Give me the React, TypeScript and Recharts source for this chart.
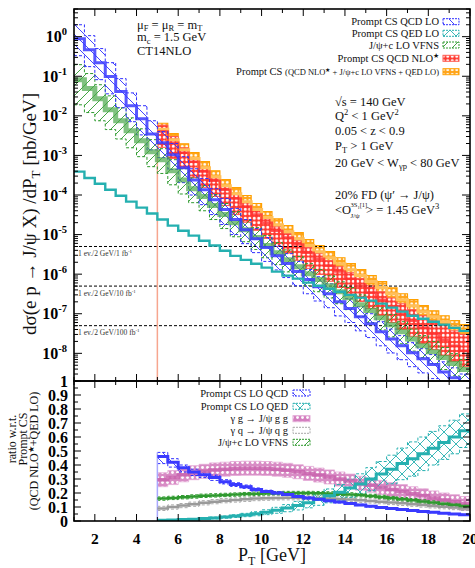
import React from "react";
import { ComposedChart, Area, Line, XAxis, YAxis, ReferenceLine } from "recharts";

const SERIF = "'Liberation Serif', 'DejaVu Serif', serif";

// bin lower edges in GeV (last entry closes the final bin)
const pTEdges = [1, 1.5, 2, 2.5, 3, 3.5, 4, 4.5, 5, 5.5, 6, 6.5, 7, 7.5, 8, 8.5, 9, 9.5, 10, 10.5, 11, 11.5, 12, 12.5, 13, 13.5, 14, 14.5, 15, 15.5, 16, 16.5, 17, 17.5, 18, 18.5, 19, 19.5, 20];
const xTicks = [1, 2, 3, 4, 5, 6, 7, 8, 9, 10, 11, 12, 13, 14, 15, 16, 17, 18, 19, 20];

// ---- top panel: dσ/dPT [nb/GeV] ----
const qcdLo = [0.89, 0.47, 0.22, 0.098, 0.041, 0.018, 8.5e-3, 3.5e-3, 2.1e-3, 1.04e-3, 4.9e-4, 2.4e-4, 1.36e-4, 7.6e-5, 4.3e-5, 2.4e-5, 1.33e-5, 7.9e-6, 4.7e-6, 2.9e-6, 1.85e-6, 1.16e-6, 7.3e-7, 4.8e-7, 3.2e-7, 2.0e-7, 1.35e-7, 8.4e-8, 5.6e-8, 3.5e-8, 2.3e-8, 1.56e-8, 1.04e-8, 7.3e-9, 5.2e-9, 3.4e-9, 2.4e-9, 1.7e-9];
const qcdLoHi = [2.0, 1.06, 0.5, 0.22, 0.087, 0.038, 1.8e-2, 7.5e-3, 4.0e-3, 2.0e-3, 9.3e-4, 4.6e-4, 2.6e-4, 1.44e-4, 8.2e-5, 4.6e-5, 2.4e-5, 1.41e-5, 8.4e-6, 5.2e-6, 3.3e-6, 2.1e-6, 1.31e-6, 8.6e-7, 5.7e-7, 3.6e-7, 2.4e-7, 1.5e-7, 1.0e-7, 6.3e-8, 4.1e-8, 2.8e-8, 1.86e-8, 1.31e-8, 9.3e-9, 6.1e-9, 4.3e-9, 3.0e-9];
const qcdLoLo = [0.33, 0.175, 0.082, 0.036, 0.016, 7.1e-3, 3.3e-3, 1.38e-3, 8.8e-4, 4.4e-4, 2.05e-4, 1.0e-4, 5.7e-5, 3.2e-5, 1.8e-5, 1.0e-5, 5.9e-6, 3.5e-6, 2.1e-6, 1.28e-6, 8.2e-7, 5.1e-7, 3.2e-7, 2.1e-7, 1.42e-7, 8.8e-8, 6.0e-8, 3.7e-8, 2.5e-8, 1.55e-8, 1.02e-8, 6.9e-9, 4.6e-9, 3.2e-9, 2.3e-9, 1.5e-9, 1.06e-9, 7.5e-10];

const vfns = [8.2e-2, 4.9e-2, 2.7e-2, 1.43e-2, 7.5e-3, 4.2e-3, 2.35e-3, 1.24e-3, 7.8e-4, 4.1e-4, 2.4e-4, 1.44e-4, 9.1e-5, 5.4e-5, 3.2e-5, 2.0e-5, 1.33e-5, 8.4e-6, 5.3e-6, 3.5e-6, 2.3e-6, 1.55e-6, 1.03e-6, 7.3e-7, 5.1e-7, 3.6e-7, 2.55e-7, 1.7e-7, 1.2e-7, 7.9e-8, 5.3e-8, 3.5e-8, 2.3e-8, 1.56e-8, 1.1e-8, 7.8e-9, 5.5e-9, 3.9e-9];
const vfnsHi = [0.196, 0.117, 6.1e-2, 3.2e-2, 1.6e-2, 8.9e-3, 4.7e-3, 2.5e-3, 1.48e-3, 7.8e-4, 4.6e-4, 2.7e-4, 1.73e-4, 1.03e-4, 6.1e-5, 3.8e-5, 2.4e-5, 1.5e-5, 9.5e-6, 6.3e-6, 4.1e-6, 2.8e-6, 1.84e-6, 1.31e-6, 9.1e-7, 6.4e-7, 4.6e-7, 3.0e-7, 2.1e-7, 1.41e-7, 9.5e-8, 6.3e-8, 4.1e-8, 2.8e-8, 2.0e-8, 1.4e-8, 9.8e-9, 7.0e-9];
const vfnsLo = [1.9e-2, 1.21e-2, 7.5e-3, 4.5e-3, 2.6e-3, 1.56e-3, 9.3e-4, 5.2e-4, 3.5e-4, 1.81e-4, 1.06e-4, 6.4e-5, 4.0e-5, 2.4e-5, 1.42e-5, 8.8e-6, 6.6e-6, 4.2e-6, 2.6e-6, 1.74e-6, 1.14e-6, 7.7e-7, 5.1e-7, 3.6e-7, 2.5e-7, 1.79e-7, 1.27e-7, 8.5e-8, 6.0e-8, 3.9e-8, 2.6e-8, 1.74e-8, 1.14e-8, 7.8e-9, 5.5e-9, 3.9e-9, 2.7e-9, 1.94e-9];

const qedLo = [3.9e-4, 2.7e-4, 1.93e-4, 1.36e-4, 9.6e-5, 6.8e-5, 4.8e-5, 3.4e-5, 2.4e-5, 1.68e-5, 1.25e-5, 9.4e-6, 7.0e-6, 5.3e-6, 3.9e-6, 2.9e-6, 2.3e-6, 1.84e-6, 1.46e-6, 1.16e-6, 9.2e-7, 7.7e-7, 6.1e-7, 5.1e-7, 4.3e-7, 3.6e-7, 3.0e-7, 2.55e-7, 2.14e-7, 1.8e-7, 1.43e-7, 1.13e-7, 8.9e-8, 7.5e-8, 6.3e-8, 5.3e-8, 4.4e-8, 3.7e-8];

// from PT = 5 GeV
const nloStar = [4.0e-3, 2.1e-3, 1.17e-3, 6.9e-4, 3.9e-4, 2.3e-4, 1.36e-4, 8.1e-5, 5.1e-5, 3.2e-5, 2.0e-5, 1.25e-5, 8.4e-6, 5.6e-6, 3.5e-6, 2.46e-6, 1.64e-6, 1.16e-6, 7.7e-7, 5.1e-7, 3.4e-7, 2.27e-7, 1.51e-7, 1.0e-7, 6.7e-8, 4.4e-8, 3.1e-8, 2.2e-8, 1.56e-8, 1.16e-8];
const nloStarHi = [5.8e-3, 3.0e-3, 1.56e-3, 8.8e-4, 4.9e-4, 2.7e-4, 1.63e-4, 1.02e-4, 6.5e-5, 4.1e-5, 2.5e-5, 1.57e-5, 1.06e-5, 7.0e-6, 4.7e-6, 3.3e-6, 2.2e-6, 1.54e-6, 1.09e-6, 7.8e-7, 5.1e-7, 3.6e-7, 2.5e-7, 1.79e-7, 1.27e-7, 8.9e-8, 6.6e-8, 5.0e-8, 3.7e-8, 3.0e-8];
const nloStarLo = [1.6e-3, 8.4e-4, 4.7e-4, 2.76e-4, 1.56e-4, 9.2e-5, 5.4e-5, 3.2e-5, 2.04e-5, 1.28e-5, 8.0e-6, 5.0e-6, 3.4e-6, 2.24e-6, 1.4e-6, 9.8e-7, 6.6e-7, 4.6e-7, 3.1e-7, 2.04e-7, 1.36e-7, 9.1e-8, 6.0e-8, 4.0e-8, 2.7e-8, 1.76e-8, 1.24e-8, 8.8e-9, 6.2e-9, 4.6e-9];

const total = [4.6e-3, 2.5e-3, 1.39e-3, 8.3e-4, 4.9e-4, 2.9e-4, 1.72e-4, 1.08e-4, 6.8e-5, 4.3e-5, 2.7e-5, 1.78e-5, 1.18e-5, 7.9e-6, 5.3e-6, 3.7e-6, 2.6e-6, 1.84e-6, 1.3e-6, 9.2e-7, 6.5e-7, 4.6e-7, 3.2e-7, 2.27e-7, 1.6e-7, 1.13e-7, 8.4e-8, 6.3e-8, 4.7e-8, 3.7e-8];
const totalHi = [6.5e-3, 3.55e-3, 1.97e-3, 1.18e-3, 7.0e-4, 4.1e-4, 2.44e-4, 1.53e-4, 9.7e-5, 6.1e-5, 3.8e-5, 2.5e-5, 1.68e-5, 1.12e-5, 7.5e-6, 5.3e-6, 3.7e-6, 2.6e-6, 1.85e-6, 1.31e-6, 9.2e-7, 6.5e-7, 4.5e-7, 3.2e-7, 2.27e-7, 1.6e-7, 1.19e-7, 8.9e-8, 6.7e-8, 5.3e-8];
const totalLo = [3.4e-3, 1.87e-3, 1.04e-3, 6.2e-4, 3.7e-4, 2.16e-4, 1.28e-4, 8.1e-5, 5.1e-5, 3.2e-5, 2.0e-5, 1.33e-5, 8.8e-6, 5.9e-6, 4.0e-6, 2.76e-6, 1.94e-6, 1.37e-6, 9.7e-7, 6.9e-7, 4.9e-7, 3.4e-7, 2.4e-7, 1.69e-7, 1.19e-7, 8.4e-8, 6.3e-8, 4.7e-8, 3.5e-8, 2.76e-8];

// ---- ratio panel (from PT = 5 GeV) ----
const rQcd = [0.46, 0.42, 0.38, 0.35, 0.33, 0.31, 0.28, 0.26, 0.245, 0.225, 0.21, 0.2, 0.19, 0.175, 0.165, 0.155, 0.145, 0.135, 0.125, 0.115, 0.105, 0.097, 0.09, 0.082, 0.075, 0.068, 0.062, 0.056, 0.05, 0.045];
const rQcdLo = [0.41, 0.385, 0.35, 0.325, 0.31, 0.29, 0.265, 0.247, 0.233, 0.214, 0.2, 0.19, 0.181, 0.167, 0.157, 0.148, 0.138, 0.129, 0.119, 0.11, 0.1, 0.092, 0.086, 0.078, 0.071, 0.065, 0.059, 0.053, 0.047, 0.042];
const rQcdHi = [0.49, 0.445, 0.4, 0.37, 0.35, 0.328, 0.295, 0.273, 0.257, 0.236, 0.22, 0.21, 0.199, 0.183, 0.173, 0.162, 0.152, 0.141, 0.131, 0.12, 0.11, 0.102, 0.094, 0.086, 0.079, 0.071, 0.065, 0.059, 0.053, 0.048];

const rQed = [0.005, 0.008, 0.01, 0.013, 0.017, 0.022, 0.028, 0.035, 0.043, 0.052, 0.063, 0.077, 0.092, 0.11, 0.13, 0.155, 0.18, 0.205, 0.235, 0.265, 0.3, 0.335, 0.37, 0.41, 0.445, 0.48, 0.52, 0.56, 0.6, 0.645];
const rQedLo = [0.0036, 0.0058, 0.0072, 0.0094, 0.0122, 0.0158, 0.0202, 0.0252, 0.031, 0.0374, 0.0454, 0.0554, 0.0662, 0.079, 0.094, 0.112, 0.13, 0.148, 0.169, 0.191, 0.216, 0.241, 0.266, 0.295, 0.32, 0.36, 0.4, 0.44, 0.48, 0.525];
const rQedHi = [0.0064, 0.0102, 0.0127, 0.0165, 0.0216, 0.028, 0.0356, 0.0445, 0.0546, 0.066, 0.08, 0.0978, 0.117, 0.14, 0.165, 0.197, 0.229, 0.26, 0.298, 0.337, 0.381, 0.425, 0.47, 0.521, 0.565, 0.6, 0.64, 0.68, 0.72, 0.765];

const rGg = [0.295, 0.31, 0.33, 0.345, 0.355, 0.365, 0.37, 0.375, 0.377, 0.377, 0.375, 0.37, 0.362, 0.352, 0.34, 0.328, 0.315, 0.3, 0.285, 0.27, 0.255, 0.24, 0.225, 0.21, 0.195, 0.18, 0.165, 0.15, 0.138, 0.125];
const rGgLo = [0.245, 0.26, 0.28, 0.295, 0.305, 0.315, 0.32, 0.325, 0.327, 0.327, 0.325, 0.32, 0.312, 0.302, 0.29, 0.278, 0.265, 0.25, 0.235, 0.22, 0.205, 0.19, 0.175, 0.16, 0.145, 0.13, 0.115, 0.1, 0.088, 0.075];
const rGgHi = [0.345, 0.36, 0.38, 0.395, 0.405, 0.415, 0.42, 0.425, 0.427, 0.427, 0.425, 0.42, 0.412, 0.402, 0.39, 0.378, 0.365, 0.35, 0.335, 0.32, 0.305, 0.29, 0.275, 0.26, 0.245, 0.23, 0.215, 0.2, 0.188, 0.175];

const rGq = [0.09, 0.1, 0.11, 0.12, 0.13, 0.138, 0.145, 0.15, 0.155, 0.16, 0.163, 0.165, 0.166, 0.166, 0.165, 0.163, 0.16, 0.157, 0.153, 0.148, 0.143, 0.138, 0.132, 0.126, 0.12, 0.114, 0.108, 0.102, 0.096, 0.09];
const rGqLo = [0.075, 0.085, 0.095, 0.105, 0.115, 0.123, 0.13, 0.135, 0.14, 0.145, 0.148, 0.15, 0.151, 0.151, 0.15, 0.148, 0.145, 0.142, 0.138, 0.133, 0.128, 0.123, 0.117, 0.111, 0.105, 0.099, 0.093, 0.087, 0.081, 0.075];
const rGqHi = [0.105, 0.115, 0.125, 0.135, 0.145, 0.153, 0.16, 0.165, 0.17, 0.175, 0.178, 0.18, 0.181, 0.181, 0.18, 0.178, 0.175, 0.172, 0.168, 0.163, 0.158, 0.153, 0.147, 0.141, 0.135, 0.129, 0.123, 0.117, 0.111, 0.105];

const rVfns = [0.16, 0.165, 0.17, 0.175, 0.18, 0.183, 0.186, 0.189, 0.192, 0.195, 0.197, 0.199, 0.2, 0.2, 0.2, 0.199, 0.197, 0.194, 0.19, 0.185, 0.179, 0.172, 0.164, 0.156, 0.148, 0.14, 0.132, 0.124, 0.116, 0.108];
const rVfnsLo = [0.148, 0.153, 0.158, 0.163, 0.168, 0.171, 0.174, 0.177, 0.18, 0.183, 0.185, 0.187, 0.188, 0.188, 0.188, 0.187, 0.185, 0.182, 0.178, 0.173, 0.167, 0.16, 0.152, 0.144, 0.136, 0.128, 0.12, 0.112, 0.104, 0.096];
const rVfnsHi = [0.172, 0.177, 0.182, 0.187, 0.192, 0.195, 0.198, 0.201, 0.204, 0.207, 0.209, 0.211, 0.212, 0.212, 0.212, 0.211, 0.209, 0.206, 0.202, 0.197, 0.191, 0.184, 0.176, 0.168, 0.16, 0.152, 0.144, 0.136, 0.128, 0.12];

// axis ticks
const yMajor = [1, 0.1, 0.01, 1e-3, 1e-4, 1e-5, 1e-6, 1e-7, 1e-8];
const yMajorLabels = ["0", "-1", "-2", "-3", "-4", "-5", "-6", "-7", "-8"];
const yMinorMantissa = [2, 3, 4, 5, 6, 7, 8, 9];
const yTicksAll = [...yMajor, ...[1e-9, ...yMajor].flatMap((p) => yMinorMantissa.map((m) => m * p))].filter((v) => v >= 2e-9 && v <= 5);
const ratioTicks = [0, 0.05, 0.1, 0.15, 0.2, 0.25, 0.3, 0.35, 0.4, 0.45, 0.5, 0.55, 0.6, 0.65, 0.7, 0.75, 0.8, 0.85, 0.9, 0.95, 1];
const ratioMajor = [0, 0.1, 0.2, 0.3, 0.4, 0.5, 0.6, 0.7, 0.8, 0.9, 1];
const ratioMajorLabels = ["0", "0.1", "0.2", "0.3", "0.4", "0.5", "0.6", "0.7", "0.8", "0.9", "1"];

const lumiLevels = [5e-6, 5e-7, 5e-8];
const lumiLabels = ["1 ev./2 GeV/1 fb", "1 ev./2 GeV/10 fb", "1 ev./2 GeV/100 fb"];

// rows
const topRows = pTEdges.map((x, i) => {
  const k = Math.min(i, qcdLo.length - 1);
  return {
    x,
    blue: qcdLo[k],
    blueBox: [qcdLoLo[k], qcdLoHi[k]],
    green: vfns[k],
    greenBox: [vfnsLo[k], vfnsHi[k]],
    cyan: qedLo[k],
  };
});
const nloRows = pTEdges.slice(8).map((x, j) => {
  const k = Math.min(j, nloStar.length - 1);
  return {
    x,
    red: nloStar[k],
    redBox: [nloStarLo[k], nloStarHi[k]],
    orange: total[k],
    orangeBox: [totalLo[k], totalHi[k]],
  };
});
const ratioRows = pTEdges.slice(8).map((x, j) => {
  const k = Math.min(j, rQcd.length - 1);
  return {
    x,
    qcd: rQcd[k], qcdBox: [rQcdLo[k], rQcdHi[k]],
    qed: rQed[k], qedBox: [rQedLo[k], rQedHi[k]],
    gg: rGg[k], ggBox: [rGgLo[k], rGgHi[k]],
    gq: rGq[k], gqBox: [rGqLo[k], rGqHi[k]],
    vf: rVfns[k], vfBox: [rVfnsLo[k], rVfnsHi[k]],
  };
});

// layout
const W = 475;
const TOP = { t: 9, b: 381, l: 74, r: 470 };
const BOT = { t: 381, b: 521, l: 74, r: 470 };

const C = {
  blue: "#2f2fff",
  cyan: "#25b0b0",
  green: "#2e9a2e",
  red: "#ff3030",
  orange: "#ffa000",
  pink: "#cf6fb5",
  grey: "#a8a8a8",
};

const topXTick = (p: any) => {
  const x = p.x;
  const v = p.payload.value;
  const len = v % 2 === 0 ? 7 : 4;
  return (
    <g>
      <line x1={x} x2={x} y1={TOP.b} y2={TOP.b - len} stroke="#000" strokeWidth={1} />
      <line x1={x} x2={x} y1={TOP.t} y2={TOP.t + len} stroke="#000" strokeWidth={1} />
    </g>
  );
};

const topYTick = (p: any) => {
  const y = p.y;
  const v = p.payload.value;
  const idx = yMajor.findIndex((m) => Math.abs(v / m - 1) < 1e-6);
  const major = idx >= 0;
  const len = major ? 8 : 4;
  return (
    <g>
      <line x1={TOP.l} x2={TOP.l + len} y1={y} y2={y} stroke="#000" strokeWidth={1} />
      <line x1={TOP.r} x2={TOP.r - len} y1={y} y2={y} stroke="#000" strokeWidth={1} />
      {major && (
        <text x={67} y={y + 5.5} textAnchor="end" fontFamily={SERIF} fontWeight={700} fontSize={16} fill="#000">
          10<tspan dy={-7} fontSize={10.5}>{yMajorLabels[idx]}</tspan>
        </text>
      )}
    </g>
  );
};

const botXTick = (p: any) => {
  const x = p.x;
  const v = p.payload.value;
  const major = v % 2 === 0;
  const len = major ? 7 : 4;
  return (
    <g>
      <line x1={x} x2={x} y1={BOT.b} y2={BOT.b - len} stroke="#000" strokeWidth={1} />
      <line x1={x} x2={x} y1={BOT.t} y2={BOT.t + len} stroke="#000" strokeWidth={1} />
      {major && (
        <text x={x} y={544} textAnchor="middle" fontFamily={SERIF} fontWeight={700} fontSize={15.5} fill="#000">
          {v}
        </text>
      )}
    </g>
  );
};

const botYTick = (p: any) => {
  const y = p.y;
  const v = p.payload.value;
  const idx = ratioMajor.findIndex((m) => Math.abs(v - m) < 1e-9);
  const major = idx >= 0;
  const len = major ? 7 : 4;
  return (
    <g>
      <line x1={BOT.l} x2={BOT.l + len} y1={y} y2={y} stroke="#000" strokeWidth={1} />
      <line x1={BOT.r} x2={BOT.r - len} y1={y} y2={y} stroke="#000" strokeWidth={1} />
      {major && (
        <text x={68} y={y + 5.5} textAnchor="end" fontFamily={SERIF} fontWeight={700} fontSize={16} fill="#000">
          {ratioMajorLabels[idx]}
        </text>
      )}
    </g>
  );
};

const lumiLabel = (text: string) => (props: any) => {
  const vb = props.viewBox || {};
  return (
    <text x={(vb.x || 0) + 4} y={(vb.y || 0) + 9.5} fontFamily={SERIF} fontSize={7.5} fill="#333">
      {text}
      <tspan dy={-3} fontSize={5}>-1</tspan>
    </text>
  );
};

function PatternDefs() {
  return (
    <svg width={0} height={0} style={{ position: "absolute", left: 0, top: 0 }}>
      <defs>
        <pattern id="pBlue" width={10} height={10} patternUnits="userSpaceOnUse">
          <path d="M0,0 L10,10 M-2,8 L2,12 M8,-2 L12,2" stroke={C.blue} strokeWidth={0.9} fill="none" />
        </pattern>
        <pattern id="pGreen" width={10} height={10} patternUnits="userSpaceOnUse">
          <path d="M0,10 L10,0 M-2,2 L2,-2 M8,12 L12,8" stroke={C.green} strokeWidth={0.9} fill="none" />
        </pattern>
        <pattern id="pCyanX" width={12} height={12} patternUnits="userSpaceOnUse">
          <path d="M0,0 L12,12 M12,0 L0,12" stroke={C.cyan} strokeWidth={0.9} fill="none" />
        </pattern>
        <pattern id="pRed" width={4.5} height={4.5} patternUnits="userSpaceOnUse">
          <rect width={4.5} height={4.5} fill="#ff3a30" />
          <circle cx={2.25} cy={2.25} r={1.5} fill="#fff" />
        </pattern>
        <pattern id="pOrange" width={4.5} height={4.5} patternUnits="userSpaceOnUse">
          <rect width={4.5} height={4.5} fill="#ffa41a" />
          <circle cx={2.25} cy={2.25} r={1.45} fill="#fff" />
        </pattern>
        <pattern id="pPink" width={5} height={5} patternUnits="userSpaceOnUse">
          <rect width={5} height={5} fill="#d47fbf" />
          <circle cx={2.5} cy={2.5} r={1.4} fill="#fff" />
        </pattern>
      </defs>
    </svg>
  );
}

function TopBack() {
  return (
    <ComposedChart width={W} height={390} data={nloRows} margin={{ top: 9, right: 5, left: 0, bottom: 0 }}>
      <XAxis type="number" dataKey="x" domain={[1, 20]} ticks={xTicks} allowDataOverflow height={9} tick={false} axisLine={false} tickLine={false} />
      <YAxis type="number" scale="log" domain={[2e-9, 5]} allowDataOverflow width={74} ticks={yMajor} tick={false} axisLine={false} tickLine={false} />
      {lumiLevels.map((v, i) => (
        <ReferenceLine key={i} y={v} stroke="#000" strokeWidth={1} strokeDasharray="3 2" label={lumiLabel(lumiLabels[i])} />
      ))}
      <ReferenceLine segment={[{ x: 5, y: 2e-9 }, { x: 5, y: 4e-3 }]} stroke="#f7a68f" strokeWidth={1.5} />
      <Area type="stepAfter" dataKey="orangeBox" stroke={C.orange} strokeWidth={1.2} fill="url(#pOrange)" fillOpacity={1} isAnimationActive={false} dot={false} activeDot={false} />
      <Line type="stepAfter" dataKey="orange" stroke="#ffbf5a" strokeWidth={3} dot={false} activeDot={false} isAnimationActive={false} />
      <Area type="stepAfter" dataKey="redBox" stroke="#ff5a50" strokeWidth={1} fill="url(#pRed)" fillOpacity={1} isAnimationActive={false} dot={false} activeDot={false} />
      <Line type="stepAfter" dataKey="red" stroke="#ff3030" strokeOpacity={0.8} strokeWidth={2.5} dot={false} activeDot={false} isAnimationActive={false} />
    </ComposedChart>
  );
}

function TopFront() {
  return (
    <ComposedChart width={W} height={390} data={topRows} margin={{ top: 9, right: 5, left: 0, bottom: 0 }}>
      <XAxis type="number" dataKey="x" domain={[1, 20]} ticks={xTicks} interval={0} allowDataOverflow height={9} axisLine={false} tickLine={false} tickSize={0} tickMargin={0} tick={topXTick} />
      <YAxis type="number" scale="log" domain={[2e-9, 5]} allowDataOverflow width={74} ticks={yTicksAll} interval={0} axisLine={false} tickLine={false} tickSize={0} tickMargin={0} tick={topYTick} />
      <Area type="stepAfter" dataKey="greenBox" stroke={C.green} strokeWidth={1} strokeDasharray="3 2" fill="url(#pGreen)" fillOpacity={1} isAnimationActive={false} dot={false} activeDot={false} />
      <Area type="stepAfter" dataKey="blueBox" stroke={C.blue} strokeWidth={1} strokeDasharray="3 2" fill="url(#pBlue)" fillOpacity={1} isAnimationActive={false} dot={false} activeDot={false} />
      <Line type="stepAfter" dataKey="green" stroke="#4aa84a" strokeOpacity={0.7} strokeWidth={5} dot={false} activeDot={false} isAnimationActive={false} />
      <Line type="stepAfter" dataKey="blue" stroke="#3a3aff" strokeOpacity={0.85} strokeWidth={3} dot={false} activeDot={false} isAnimationActive={false} />
      <Line type="stepAfter" dataKey="cyan" stroke={C.cyan} strokeWidth={2.4} dot={false} activeDot={false} isAnimationActive={false} />
    </ComposedChart>
  );
}

function RatioChart() {
  return (
    <ComposedChart width={W} height={568} data={ratioRows} margin={{ top: 381, right: 5, left: 0, bottom: 0 }}>
      <XAxis type="number" dataKey="x" domain={[1, 20]} ticks={xTicks} interval={0} allowDataOverflow height={47} axisLine={false} tickLine={false} tickSize={0} tickMargin={0} tick={botXTick} />
      <YAxis type="number" domain={[0, 1]} allowDataOverflow width={74} ticks={ratioTicks} interval={0} axisLine={false} tickLine={false} tickSize={0} tickMargin={0} tick={botYTick} />
      <ReferenceLine segment={[{ x: 5, y: 0 }, { x: 5, y: 0.49 }]} stroke="#a9a9ff" strokeWidth={1.5} />
      <Area type="stepAfter" dataKey="ggBox" stroke="#e3a9d6" strokeWidth={0.8} fill="url(#pPink)" fillOpacity={0.9} isAnimationActive={false} dot={false} activeDot={false} />
      <Area type="stepAfter" dataKey="gqBox" stroke={C.grey} strokeWidth={1} strokeDasharray="3 2" fill="#eeeeee" fillOpacity={0.4} isAnimationActive={false} dot={false} activeDot={false} />
      <Area type="stepAfter" dataKey="vfBox" stroke={C.green} strokeWidth={1} strokeDasharray="3 2" fill="url(#pGreen)" fillOpacity={1} isAnimationActive={false} dot={false} activeDot={false} />
      <Area type="stepAfter" dataKey="qedBox" stroke={C.cyan} strokeWidth={1} strokeDasharray="3 2" fill="url(#pCyanX)" fillOpacity={1} isAnimationActive={false} dot={false} activeDot={false} />
      <Area type="stepAfter" dataKey="qcdBox" stroke={C.blue} strokeWidth={1} strokeDasharray="3 2" fill="url(#pBlue)" fillOpacity={1} isAnimationActive={false} dot={false} activeDot={false} />
      <Line type="stepAfter" dataKey="gg" stroke="#c963ad" strokeWidth={3.5} strokeOpacity={0.85} dot={false} activeDot={false} isAnimationActive={false} />
      <Line type="stepAfter" dataKey="gq" stroke="#9a9a9a" strokeWidth={2.5} dot={false} activeDot={false} isAnimationActive={false} />
      <Line type="stepAfter" dataKey="vf" stroke="#2f992f" strokeWidth={2.5} dot={false} activeDot={false} isAnimationActive={false} />
      <Line type="stepAfter" dataKey="qed" stroke={C.cyan} strokeWidth={3} dot={false} activeDot={false} isAnimationActive={false} />
      <Line type="stepAfter" dataKey="qcd" stroke="#3a3aff" strokeWidth={3} dot={false} activeDot={false} isAnimationActive={false} />
    </ComposedChart>
  );
}

const Sw = ({ x, y, w, fill, stroke, dash }: any) => (
  <rect x={x} y={y - 3} width={w} height={6} fill={fill} stroke={stroke} strokeWidth={1} strokeDasharray={dash} />
);

function Overlay() {
  const t = { fontFamily: SERIF, fill: "#111" } as any;
  return (
    <svg width={W} height={568} style={{ position: "absolute", left: 0, top: 0, pointerEvents: "none" }}>
      {/* frames */}
      <rect x={TOP.l} y={TOP.t} width={TOP.r - TOP.l} height={TOP.b - TOP.t} fill="none" stroke="#000" strokeWidth={1.6} />
      <rect x={BOT.l} y={BOT.t} width={BOT.r - BOT.l} height={BOT.b - BOT.t} fill="none" stroke="#000" strokeWidth={1.6} />

      {/* axis titles */}
      <text {...t} fontSize={19} textAnchor="middle" transform="translate(36,214) rotate(-90)">
        dσ(e p → J/ψ X) /dP<tspan dy={4} fontSize={13}>T</tspan><tspan dy={-4}> [nb/GeV]</tspan>
      </text>
      <text {...t} fontSize={12} textAnchor="middle" transform="translate(16,439) rotate(-90)">ratio w.r.t.</text>
      <text {...t} fontSize={12} textAnchor="middle" transform="translate(27,439) rotate(-90)">Prompt CS</text>
      <text {...t} fontSize={12} textAnchor="middle" transform="translate(37.5,451) rotate(-90)">
        (QCD NLO<tspan dy={-4} fontSize={8}>★</tspan><tspan dy={4}>+QED LO)</tspan>
      </text>
      <text {...t} fontSize={18} textAnchor="middle" x={272} y={561}>
        P<tspan dy={3.5} fontSize={12}>T</tspan><tspan dy={-3.5}> [GeV]</tspan>
      </text>

      {/* top-left annotation */}
      <text {...t} fontSize={12.5} x={137} y={28.5}>
        μ<tspan dy={2.5} fontSize={8.5}>F</tspan><tspan dy={-2.5}> = μ</tspan><tspan dy={2.5} fontSize={8.5}>R</tspan><tspan dy={-2.5}> = m</tspan><tspan dy={2.5} fontSize={8.5}>T</tspan>
      </text>
      <text {...t} fontSize={12.5} x={137} y={41}>
        m<tspan dy={2.5} fontSize={8.5}>c</tspan><tspan dy={-2.5}> = 1.5 GeV</tspan>
      </text>
      <text {...t} fontSize={12.5} x={137} y={54.5}>CT14NLO</text>

      {/* right annotation */}
      <text {...t} fontSize={12.5} x={335} y={106}>√s = 140 GeV</text>
      <text {...t} fontSize={12.5} x={335} y={120}>
        Q<tspan dy={-5} fontSize={8.5}>2</tspan><tspan dy={5}> &lt; 1 GeV</tspan><tspan dy={-5} fontSize={8.5}>2</tspan>
      </text>
      <text {...t} fontSize={12.5} x={335} y={135}>0.05 &lt; z &lt; 0.9</text>
      <text {...t} fontSize={12.5} x={335} y={150}>
        P<tspan dy={2.5} fontSize={8.5}>T</tspan><tspan dy={-2.5}> &gt; 1 GeV</tspan>
      </text>
      <text {...t} fontSize={12.5} x={335} y={166.5}>
        20 GeV &lt; W<tspan dy={2.5} fontSize={8.5}>γp</tspan><tspan dy={-2.5}> &lt; 80 GeV</tspan>
      </text>
      <text {...t} fontSize={12.5} x={335} y={199}>20% FD (ψ′ → J/ψ)</text>
      <text {...t} fontSize={12.5} x={335} y={214}>&lt;O</text>
      <text {...t} fontSize={6.5} x={350.5} y={207}>
        3S<tspan dy={1.5} fontSize={4.5}>1</tspan><tspan dy={-1.5}>[1]</tspan>
      </text>
      <text {...t} fontSize={7} x={350.5} y={218}>J/ψ</text>
      <text {...t} fontSize={12.5} x={366} y={214}>
        &gt; = 1.45 GeV<tspan dy={-5} fontSize={8.5}>3</tspan>
      </text>

      {/* top legend */}
      <text {...t} fontSize={10.5} x={439} y={25.2} textAnchor="end">Prompt CS QCD LO</text>
      <Sw x={443} y={21.7} w={16} fill="url(#pBlue)" stroke={C.blue} dash="2 1" />
      <text {...t} fontSize={10.5} x={439} y={36.8} textAnchor="end">Prompt CS QED LO</text>
      <Sw x={443} y={33.3} w={16} fill="url(#pCyanX)" stroke={C.cyan} dash="2 1" />
      <text {...t} fontSize={10.5} x={439} y={48.5} textAnchor="end">J/ψ+c LO VFNS</text>
      <Sw x={443} y={45} w={16} fill="url(#pGreen)" stroke={C.green} dash="2 1" />
      <text {...t} fontSize={10.5} x={439} y={61.8} textAnchor="end">
        Prompt CS QCD NLO<tspan dy={-4} fontSize={7}>★</tspan>
      </text>
      <Sw x={443} y={58.3} w={16} fill="url(#pRed)" stroke="#ff5a50" />
      <text {...t} fontSize={10.5} x={439} y={75.2} textAnchor="end">
        Prompt CS <tspan fontSize={8.5}>(QCD NLO</tspan><tspan dy={-3} fontSize={6}>★</tspan><tspan dy={3} fontSize={8.5}> + J/ψ+c LO VFNS + QED LO)</tspan>
      </text>
      <Sw x={443} y={71.7} w={16} fill="url(#pOrange)" stroke={C.orange} />

      {/* bottom legend */}
      <text {...t} fontSize={10.5} x={288} y={396.5} textAnchor="end">Prompt CS LO QCD</text>
      <Sw x={293} y={393} w={17} fill="url(#pBlue)" stroke={C.blue} dash="2 1" />
      <text {...t} fontSize={10.5} x={288} y={409.8} textAnchor="end">Prompt CS LO QED</text>
      <Sw x={293} y={406.3} w={17} fill="url(#pCyanX)" stroke={C.cyan} dash="2 1" />
      <text {...t} fontSize={10.5} x={288} y={422.2} textAnchor="end">γ g → J/ψ g g</text>
      <Sw x={293} y={418.7} w={17} fill="url(#pPink)" stroke="#e3a9d6" />
      <text {...t} fontSize={10.5} x={288} y={433.8} textAnchor="end">γ q → J/ψ q g</text>
      <Sw x={293} y={430.3} w={17} fill="#fff" stroke={C.grey} dash="2 1" />
      <text {...t} fontSize={10.5} x={288} y={445.8} textAnchor="end">J/ψ+c LO VFNS</text>
      <Sw x={293} y={442.3} w={17} fill="url(#pGreen)" stroke={C.green} dash="2 1" />
    </svg>
  );
}

export default function App() {
  return (
    <div style={{ position: "absolute", left: 0, top: 0, width: W, height: 568, background: "#fff", overflow: "hidden" }}>
      <PatternDefs />
      <div style={{ position: "absolute", left: 0, top: 0 }}>
        <TopBack />
      </div>
      <div style={{ position: "absolute", left: 0, top: 0 }}>
        <TopFront />
      </div>
      <div style={{ position: "absolute", left: 0, top: 0 }}>
        <RatioChart />
      </div>
      <Overlay />
    </div>
  );
}
